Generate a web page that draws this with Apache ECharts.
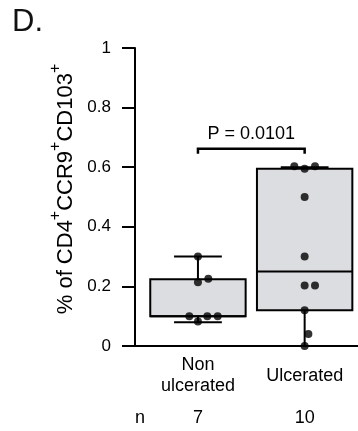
<!DOCTYPE html>
<html>
<head>
<meta charset="utf-8">
<script src="https://cdn.jsdelivr.net/npm/echarts@6/dist/echarts.min.js"></script>
<style>
  html, body { margin: 0; padding: 0; background: #fff; }
  #chart { width: 358px; height: 431px; }
</style>
</head>
<body>
<div id="chart"></div>
<script>
// Groups, their positions on the x scale and sample sizes
var groupNames = ['Non\nulcerated', 'Ulcerated'];
var groupPos = [1, 2];
var groupN = ['7', '10'];

// Box summaries: [min, q1, median, q3, max]
var nonUlceratedBox = [0.08, 0.10, 0.10, 0.224, 0.30];
var ulceratedBox = [0.00, 0.12, 0.25, 0.595, 0.60];

// Individual samples and their horizontal jitter around the group centre
var nonUlceratedValues = [0.30, 0.214, 0.226, 0.10, 0.10, 0.10, 0.082];
var nonUlceratedJitter = [0, 0, 0.097, -0.081, 0.088, 0.185, 0];
var ulceratedValues = [0.603, 0.595, 0.603, 0.50, 0.30, 0.203, 0.203, 0.12, 0.04, 0.00];
var ulceratedJitter = [-0.097, 0, 0.097, 0, 0, 0, 0.097, 0, 0.035, 0];

// Comparison bracket
var pLabel = 'P = 0.0101';
var bracketLevel = 0.662;

// Y axis ticks
var yMin = 0, yMax = 1, yStep = 0.2;

var FONT = '"Liberation Sans", Arial, Helvetica, sans-serif';

var boxData = [
  [groupPos[0]].concat(nonUlceratedBox),
  [groupPos[1]].concat(ulceratedBox)
];

var pointData = [];
nonUlceratedValues.forEach(function (v, i) {
  pointData.push([groupPos[0] + nonUlceratedJitter[i], v]);
});
ulceratedValues.forEach(function (v, i) {
  pointData.push([groupPos[1] + ulceratedJitter[i], v]);
});

var BOX_HALF = 0.447;   // box half width, x units
var CAP_HALF = 0.224;   // whisker cap half width, x units

function renderBox(params, api) {
  var x = api.value(0);
  var lo = api.coord([x, api.value(1)]);
  var q1 = api.coord([x, api.value(2)]);
  var med = api.coord([x, api.value(3)]);
  var q3 = api.coord([x, api.value(4)]);
  var hi = api.coord([x, api.value(5)]);
  var hw = api.size([BOX_HALF, 0])[0];
  var cw = api.size([CAP_HALF, 0])[0];
  var cx = q1[0];
  var stroke = { stroke: '#000', lineWidth: 2, fill: null };
  return {
    type: 'group',
    children: [
      { type: 'line', shape: { x1: cx, y1: q3[1], x2: cx, y2: hi[1] }, style: stroke },
      { type: 'line', shape: { x1: cx, y1: q1[1], x2: cx, y2: lo[1] }, style: stroke },
      { type: 'line', shape: { x1: cx - cw, y1: hi[1], x2: cx + cw, y2: hi[1] }, style: stroke },
      { type: 'line', shape: { x1: cx - cw, y1: lo[1], x2: cx + cw, y2: lo[1] }, style: stroke },
      { type: 'rect', shape: { x: cx - hw, y: q3[1], width: 2 * hw, height: q1[1] - q3[1] },
        style: { fill: '#dcdde0', stroke: '#000', lineWidth: 2 } },
      { type: 'line', shape: { x1: cx - hw, y1: med[1], x2: cx + hw, y2: med[1] }, style: stroke }
    ]
  };
}

function renderBracket(params, api) {
  var a = api.coord([api.value(0), api.value(2)]);
  var b = api.coord([api.value(1), api.value(2)]);
  var mid = (a[0] + b[0]) / 2;
  return {
    type: 'group',
    children: [
      { type: 'polyline',
        shape: { points: [[a[0], a[1] + 5], [a[0], a[1]], [b[0], b[1]], [b[0], b[1] + 5]] },
        style: { stroke: '#000', lineWidth: 2.5, fill: null } },
      { type: 'text',
        style: { text: pLabel, x: mid, y: a[1] - 6, align: 'center', verticalAlign: 'bottom',
                 fontSize: 18, fontFamily: FONT, fill: '#000' } }
    ]
  };
}

var chart = echarts.init(document.getElementById('chart'), null, { renderer: 'canvas' });

chart.setOption({
  animation: false,
  backgroundColor: '#fff',
  title: {
    text: 'D.',
    left: 12, top: 7, padding: 0,
    textStyle: { fontSize: 31, fontWeight: 'normal', fontFamily: FONT, color: '#111' }
  },
  grid: { left: 135, right: 0, top: 48, bottom: 85 },
  xAxis: [
    {
      type: 'value', min: 0.41, max: 2.5,
      splitLine: { show: false },
      axisLine: { show: true, onZero: false, lineStyle: { color: '#000', width: 2 } },
      axisTick: { show: false },
      axisLabel: {
        customValues: groupPos,
        formatter: function (v) { return groupNames[groupPos.indexOf(v)] || ''; },
        fontSize: 18, lineHeight: 21, fontFamily: FONT, color: '#000',
        margin: 30, verticalAlign: 'middle'
      }
    },
    {
      type: 'value', min: 0.41, max: 2.5, position: 'bottom',
      splitLine: { show: false },
      axisLine: { show: false },
      axisTick: { show: false },
      axisLabel: {
        customValues: [0.457].concat(groupPos),
        formatter: function (v) {
          var i = groupPos.indexOf(v);
          return i < 0 ? 'n' : groupN[i];
        },
        fontSize: 18, fontFamily: FONT, color: '#000',
        margin: 72, verticalAlign: 'middle'
      }
    }
  ],
  yAxis: {
    type: 'value', min: yMin, max: yMax, interval: yStep,
    splitLine: { show: false },
    axisLine: { show: true, lineStyle: { color: '#000', width: 2 } },
    axisTick: { show: true, length: 13, lineStyle: { color: '#000', width: 2 } },
    axisLabel: { fontSize: 17, fontFamily: FONT, color: '#000', margin: 24 },
    name: '{m|% of CD4}{s|+}{m|CCR9}{s|+}{m|CD103}{s|+}',
    nameLocation: 'middle',
    nameGap: 56,
    nameTextStyle: {
      fontSize: 22, fontFamily: FONT, color: '#000',
      padding: [0, 0, 0, 16],
      rich: {
        m: { fontSize: 22, fontFamily: FONT, color: '#000', lineHeight: 22, verticalAlign: 'bottom' },
        s: { fontSize: 16, fontFamily: FONT, color: '#000', lineHeight: 16,
             verticalAlign: 'bottom', padding: [0, 0, 13, 0] }
      }
    }
  },
  series: [
    {
      type: 'custom', name: 'box', xAxisIndex: 0,
      renderItem: renderBox,
      encode: { x: 0, y: [1, 2, 3, 4, 5] },
      data: boxData, z: 2
    },
    {
      type: 'scatter', name: 'samples', xAxisIndex: 0,
      data: pointData, symbol: 'circle', symbolSize: 8,
      itemStyle: { color: '#000' }, z: 5
    },
    {
      type: 'custom', name: 'bracket', xAxisIndex: 0,
      renderItem: renderBracket,
      encode: { x: [0, 1], y: 2 },
      data: [[groupPos[0], groupPos[1], bracketLevel]], z: 4
    }
  ]
});
</script>
</body>
</html>
